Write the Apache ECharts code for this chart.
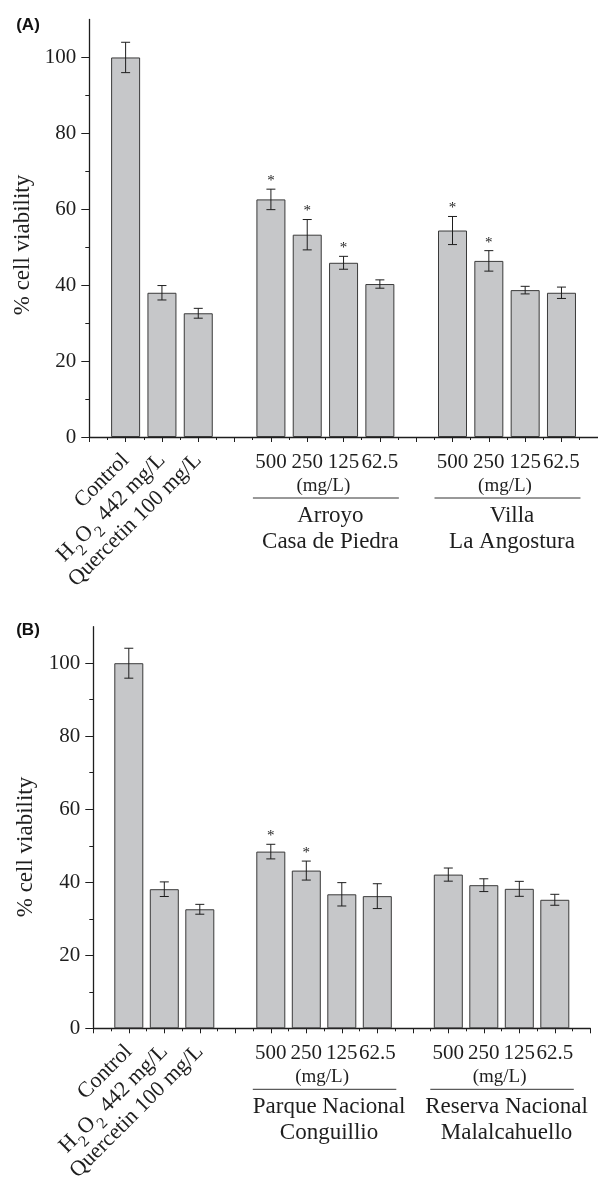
<!DOCTYPE html>
<html>
<head>
<meta charset="utf-8">
<script src="https://cdn.jsdelivr.net/npm/echarts@6/dist/echarts.min.js"></script>
<style>
html, body { margin: 0; padding: 0; background: #fff; }
#chart { width: 598px; height: 1179px; }
</style>
</head>
<body>
<div id="chart"></div>
<script>
// bar slots on the x axis (4 and 9 are the empty gaps)
var positions = [1, 2, 3, 5, 6, 7, 8, 10, 11, 12, 13]
var treatmentLabels = ['Control', 'H{sub|2}O{sub|2} 442 mg/L', 'Quercetin 100 mg/L']
var doseLabels = ['500', '250', '125', '62.5', '500', '250', '125', '62.5']
var yTicks = [0, 20, 40, 60, 80, 100]
var yMinorTicks = [10, 30, 50, 70, 90]
var groupRanges = [[5, 8], [10, 13]]
var unitLabel = '(mg/L)'

var viabilityA = [100, 38, 32.6, 62.6, 53.3, 45.9, 40.3, 54.4, 46.4, 38.7, 38.0]
var errorA = [4, 1.9, 1.3, 2.7, 4, 1.7, 1.1, 3.7, 2.7, 1.0, 1.5]
var starsA = [0, 0, 0, 1, 1, 1, 0, 1, 1, 0, 0]
var groupsA = [['Arroyo', 'Casa de Piedra'], ['Villa', 'La Angostura']]

var viabilityB = [100, 38.1, 32.6, 48.4, 43.2, 36.7, 36.2, 42.1, 39.2, 38.2, 35.2]
var errorB = [4.1, 2, 1.35, 2, 2.6, 3.2, 3.4, 1.8, 1.75, 2.05, 1.5]
var starsB = [0, 0, 0, 1, 1, 0, 0, 0, 0, 0, 0]
var groupsB = [['Parque Nacional', 'Conguillio'], ['Reserva Nacional', 'Malalcahuello']]

var serif = '"Liberation Serif", "Times New Roman", serif'
var ink = '#1e1e1e'

var panels = [
  { tag: '(A)', values: viabilityA, errors: errorA, stars: starsA, groups: groupsA,
    grid: { left: 89.3, top: 19.5, width: 508.5, height: 417.5 }, tagPos: [28, 25], namePos: [23, 245] },
  { tag: '(B)', values: viabilityB, errors: errorB, stars: starsB, groups: groupsB,
    grid: { left: 93.3, top: 626.7, width: 497, height: 401.6 }, tagPos: [28, 630], namePos: [26, 847] }
]

function labelFor(list, slots) {
  return function (v) {
    var i = slots.indexOf(v)
    return i < 0 ? '' : list[i]
  }
}

function renderErrors(params, api) {
  var x = api.value(0)
  var v = api.value(1)
  var e = api.value(2)
  var top = api.coord([x, v + e])
  var bot = api.coord([x, v - e])
  var style = { stroke: ink, lineWidth: 1 }
  var children = [
    { type: 'line', shape: { x1: top[0], y1: top[1], x2: bot[0], y2: bot[1] }, style: style },
    { type: 'line', shape: { x1: top[0] - 4.5, y1: top[1], x2: top[0] + 4.5, y2: top[1] }, style: style },
    { type: 'line', shape: { x1: bot[0] - 4.5, y1: bot[1], x2: bot[0] + 4.5, y2: bot[1] }, style: style }
  ]
  if (api.value(3)) {
    children.push({
      type: 'text',
      style: { text: '*', x: top[0], y: top[1] - 8, align: 'center', verticalAlign: 'middle',
        font: '15px ' + serif, fill: ink }
    })
  }
  return { type: 'group', children: children }
}

function groupRenderer(names) {
  return function (params, api) {
    var s = api.coord([api.value(0), 0])
    var e = api.coord([api.value(1), 0])
    var cx = (s[0] + e[0]) / 2
    var y0 = s[1]
    var lines = names[params.dataIndex]
    var txt = function (t, x, y, size) {
      return { type: 'text', style: { text: t, x: x, y: y, align: 'center', verticalAlign: 'middle',
        font: size + 'px ' + serif, fill: ink } }
    }
    return {
      type: 'group',
      children: [
        txt(unitLabel, cx - 2, y0 + 49, 19),
        { type: 'line', shape: { x1: s[0] - 18, y1: y0 + 61, x2: e[0] + 19, y2: y0 + 61 },
          style: { stroke: '#333', lineWidth: 1 } },
        txt(lines[0], cx + 5, y0 + 79, 23),
        txt(lines[1], cx + 5, y0 + 105, 23)
      ]
    }
  }
}

var grids = []
var xAxes = []
var yAxes = []
var series = []
var graphics = []
var axisLineStyle = { color: ink, width: 1.3 }

panels.forEach(function (p, k) {
  grids.push(Object.assign({ outerBoundsMode: 'none', containLabel: false }, p.grid))

  var xi = xAxes.length
  xAxes.push({
    type: 'value', gridIndex: k, min: 0, max: 14, interval: 1, position: 'bottom',
    axisLine: { show: true, lineStyle: axisLineStyle },
    axisTick: { show: true, length: 5, lineStyle: { color: ink, width: 1 } },
    minorTick: { show: true, splitNumber: 2, length: 3, lineStyle: { color: ink, width: 1 } },
    axisLabel: { customValues: positions.slice(3), formatter: labelFor(doseLabels, positions.slice(3)),
      margin: 15, fontSize: 21, fontFamily: serif, color: ink, hideOverlap: false,
      showMinLabel: true, showMaxLabel: true },
    splitLine: { show: false }, minorSplitLine: { show: false }
  })
  // one hidden axis per rotated label so none of them gets dropped as overlapping
  treatmentLabels.forEach(function (label, i) {
    xAxes.push({
      type: 'value', gridIndex: k, min: 0, max: 14, position: 'bottom',
      axisLine: { show: false }, axisTick: { show: false },
      axisLabel: { customValues: [positions[i]], formatter: labelFor([label], [positions[i]]),
        rotate: 45, margin: 20, fontSize: 22, fontFamily: serif, color: ink,
        showMinLabel: true, showMaxLabel: true,
        rich: { sub: { fontSize: 16, fontFamily: serif, color: ink, padding: [19, 1, 0, 1] } } },
      splitLine: { show: false }
    })
  })

  var yi = yAxes.length
  yAxes.push({
    type: 'value', gridIndex: k, min: 0, max: 110, position: 'left',
    axisLine: { show: true, lineStyle: axisLineStyle },
    axisTick: { show: true, length: 8, customValues: yTicks, lineStyle: { color: ink, width: 1 } },
    axisLabel: { customValues: yTicks, margin: 13, fontSize: 21, fontFamily: serif, color: ink,
      hideOverlap: false, showMinLabel: true, showMaxLabel: true },
    splitLine: { show: false }
  })
  yAxes.push({
    type: 'value', gridIndex: k, min: 0, max: 110, position: 'left',
    axisLine: { show: false },
    axisTick: { show: true, length: 4, customValues: yMinorTicks, lineStyle: { color: ink, width: 1 } },
    axisLabel: { show: false },
    splitLine: { show: false }
  })

  series.push({
    type: 'bar', xAxisIndex: xi, yAxisIndex: yi, barWidth: 29, z: 2,
    data: positions.map(function (x, i) { return [x, p.values[i]] }),
    itemStyle: { color: '#c6c7c9', borderColor: '#3a3a3a', borderWidth: 1 },
    silent: true, animation: false
  })
  series.push({
    type: 'custom', xAxisIndex: xi, yAxisIndex: yi, clip: false, silent: true, animation: false, z: 10,
    renderItem: renderErrors,
    data: positions.map(function (x, i) { return [x, p.values[i], p.errors[i], p.stars[i]] })
  })
  series.push({
    type: 'custom', xAxisIndex: xi, yAxisIndex: yi, clip: false, silent: true, animation: false, z: 10,
    renderItem: groupRenderer(p.groups),
    data: groupRanges
  })

  graphics.push({
    type: 'text', x: p.tagPos[0], y: p.tagPos[1],
    style: { text: p.tag, align: 'center', verticalAlign: 'middle',
      font: 'bold 17px "Liberation Sans", Arial, sans-serif', fill: '#111' }
  })
  graphics.push({
    type: 'text', x: p.namePos[0], y: p.namePos[1], rotation: Math.PI / 2,
    style: { text: '% cell viability', align: 'center', verticalAlign: 'middle',
      font: '23px ' + serif, fill: ink }
  })
})

var chart = echarts.init(document.getElementById('chart'), null, { renderer: 'canvas' })
chart.setOption({
  backgroundColor: '#fff',
  animation: false,
  grid: grids,
  xAxis: xAxes,
  yAxis: yAxes,
  series: series,
  graphic: graphics
})
</script>
</body>
</html>
